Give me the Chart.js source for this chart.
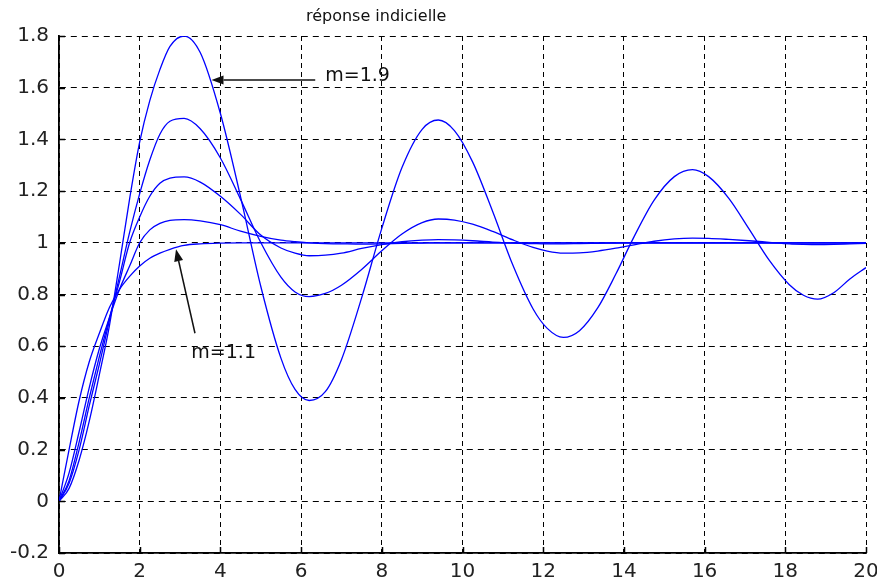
<!DOCTYPE html>
<html>
<head>
<meta charset="utf-8">
<script src="https://cdn.jsdelivr.net/npm/chart.js@4/dist/chart.umd.min.js"></script>
<style>
  html, body { margin: 0; padding: 0; background: #fff; }
  #wrap { width: 877px; height: 580px; }
</style>
</head>
<body>
<div id="wrap"><canvas id="c" width="877" height="580"></canvas></div>
<script>
// sample times (s), denser around the extrema
const T = [0, 0.25, 0.5, 0.75, 1, 1.25, 1.5, 1.75, 2, 2.25, 2.5, 2.75, 3.1,
  3.5, 4, 4.5, 5, 5.5, 5.85, 6.2,
  6.6, 7, 7.5, 8, 8.5, 9, 9.4,
  9.8, 10.25, 10.75, 11.25, 11.75, 12.1, 12.5,
  12.9, 13.35, 13.8, 14.25, 14.75, 15.25, 15.7,
  16.1, 16.6, 17.1, 17.6, 18.1, 18.45, 18.8,
  19.2, 19.6, 20];

// step responses, least damped first
const y19 = [0, 0.05, 0.16, 0.31, 0.49, 0.68, 0.92, 1.17, 1.39, 1.55, 1.67, 1.76, 1.80,
  1.736, 1.50, 1.178, 0.832, 0.554, 0.433, 0.39,
  0.424, 0.548, 0.787, 1.056, 1.291, 1.439, 1.475,
  1.434, 1.313, 1.12, 0.913, 0.744, 0.669, 0.634,
  0.66, 0.748, 0.879, 1.023, 1.165, 1.256, 1.283,
  1.256, 1.172, 1.054, 0.933, 0.838, 0.797, 0.782,
  0.807, 0.86, 0.904];
const y15 = [0, 0.07, 0.20, 0.37, 0.53, 0.70, 0.87, 1.04, 1.19, 1.32, 1.42, 1.47, 1.481,
  1.441, 1.328, 1.168, 1.001, 0.867, 0.81, 0.792,
  0.804, 0.836, 0.897, 0.969, 1.034, 1.078, 1.092,
  1.088, 1.072, 1.044, 1.011, 0.982, 0.968, 0.96,
  0.961, 0.968, 0.979, 0.992, 1.006, 1.015, 1.018,
  1.017, 1.013, 1.008, 1.002, 0.996, 0.994, 0.993,
  0.994, 0.996, 0.998];
const y13 = [0, 0.08, 0.23, 0.40, 0.56, 0.71, 0.85, 1.0, 1.10, 1.18, 1.23, 1.25, 1.255,
  1.235, 1.18, 1.11, 1.03, 0.98, 0.96, 0.95,
  0.952, 0.96, 0.978, 0.993, 1.004, 1.01, 1.012,
  1.011, 1.008, 1.003, 0.999, 0.997, 0.996, 0.996,
  0.997, 0.998, 0.999, 1.0, 1.0, 1.0, 1.0,
  1.0, 1.0, 1.0, 1.0, 1.0, 1.0, 1.0,
  1.0, 1.0, 1.0];
const y12 = [0, 0.11, 0.27, 0.44, 0.59, 0.71, 0.82, 0.91, 1.0, 1.05, 1.075, 1.087, 1.09,
  1.085, 1.07, 1.045, 1.025, 1.01, 1.004, 1.0,
  0.997, 0.996, 0.995, 0.996, 0.998, 0.999, 1.0,
  1.0, 1.0, 1.0, 1.0, 1.0, 1.0, 1.0,
  1.0, 1.0, 1.0, 1.0, 1.0, 1.0, 1.0,
  1.0, 1.0, 1.0, 1.0, 1.0, 1.0, 1.0,
  1.0, 1.0, 1.0];
const y11 = [0, 0.20, 0.39, 0.54, 0.65, 0.75, 0.82, 0.87, 0.91, 0.94, 0.96, 0.975, 0.99,
  0.996, 0.999, 1.0, 1.0, 1.0, 1.0, 1.0,
  1.0, 1.0, 1.0, 1.0, 1.0, 1.0, 1.0,
  1.0, 1.0, 1.0, 1.0, 1.0, 1.0, 1.0,
  1.0, 1.0, 1.0, 1.0, 1.0, 1.0, 1.0,
  1.0, 1.0, 1.0, 1.0, 1.0, 1.0, 1.0,
  1.0, 1.0, 1.0];

const curves = [y19, y15, y13, y12, y11];

const xTicks = [0, 2, 4, 6, 8, 10, 12, 14, 16, 18, 20];
const yTicks = [-0.2, 0, 0.2, 0.4, 0.6, 0.8, 1, 1.2, 1.4, 1.6, 1.8];

const titleText = 'réponse indicielle';
// arrow labels: [text, text pos, arrow tail, arrow tip] in data units
const notes = [
  ['m=1.9', [6.6, 1.645], [6.35, 1.63], [3.78, 1.63]],
  ['m=1.1', [3.28, 0.575], [3.37, 0.65], [2.9, 0.975]]
];

const FONT = '"DejaVu Sans", sans-serif';

const decor = {
  id: 'decor',
  afterDatasetsDraw(chart) {
    const { ctx, chartArea: a, scales: { x, y } } = chart;
    ctx.save();
    // inward tick marks on the two axes
    ctx.strokeStyle = '#000';
    ctx.lineWidth = 1.5;
    ctx.beginPath();
    xTicks.forEach(v => {
      const px = Math.round(x.getPixelForValue(v)) + 0.5;
      ctx.moveTo(px, a.bottom); ctx.lineTo(px, a.bottom - 6);
    });
    yTicks.forEach(v => {
      const py = Math.round(y.getPixelForValue(v)) + 0.5;
      ctx.moveTo(a.left, py); ctx.lineTo(a.left + 6, py);
    });
    ctx.stroke();

    // arrows and their labels
    ctx.fillStyle = '#111';
    ctx.strokeStyle = '#111';
    ctx.font = '19px ' + FONT;
    ctx.textBaseline = 'middle';
    notes.forEach(([txt, tp, from, to]) => {
      const x0 = x.getPixelForValue(from[0]), y0 = y.getPixelForValue(from[1]);
      const x1 = x.getPixelForValue(to[0]), y1 = y.getPixelForValue(to[1]);
      const ang = Math.atan2(y1 - y0, x1 - x0);
      const hl = 12, hw = 4.5;
      ctx.lineWidth = 1.5;
      ctx.beginPath();
      ctx.moveTo(x0, y0);
      ctx.lineTo(x1 - hl * Math.cos(ang), y1 - hl * Math.sin(ang));
      ctx.stroke();
      ctx.beginPath();
      ctx.moveTo(x1, y1);
      ctx.lineTo(x1 - hl * Math.cos(ang) - hw * Math.sin(ang), y1 - hl * Math.sin(ang) + hw * Math.cos(ang));
      ctx.lineTo(x1 - hl * Math.cos(ang) + hw * Math.sin(ang), y1 - hl * Math.sin(ang) - hw * Math.cos(ang));
      ctx.closePath();
      ctx.fill();
      ctx.textAlign = 'left';
      ctx.fillText(txt, x.getPixelForValue(tp[0]), y.getPixelForValue(tp[1]));
    });

    // title
    ctx.font = '16px ' + FONT;
    ctx.textAlign = 'center';
    ctx.fillStyle = '#111';
    ctx.fillText(titleText, a.left + a.width * 0.393, 17);
    ctx.restore();
  }
};

new Chart(document.getElementById('c'), {
  type: 'line',
  data: {
    datasets: curves.map(ys => ({
      data: T.map((t, i) => ({ x: t, y: ys[i] })),
      borderColor: '#0000ff',
      borderWidth: 1.3,
      pointRadius: 0,
      fill: false,
      cubicInterpolationMode: 'monotone'
    }))
  },
  options: {
    responsive: false,
    animation: false,
    layout: { padding: { top: 36, right: 11, left: 0, bottom: 0 } },
    plugins: { legend: { display: false }, tooltip: { enabled: false }, title: { display: false } },
    scales: {
      x: {
        type: 'linear', min: 0, max: 20,
        afterBuildTicks: s => { s.ticks = xTicks.map(v => ({ value: v })); },
        afterFit: s => { s.height = 27; s.paddingLeft = 0; s.paddingRight = 0; },
        grid: { color: '#000', lineWidth: 1, drawTicks: false },
        border: { display: true, color: '#000', width: 1.8, dash: [5, 4] },
        ticks: { color: '#222', padding: 7, font: { family: FONT, size: 20 }, callback: v => String(v), maxRotation: 0 }
      },
      y: {
        type: 'linear', min: -0.2, max: 1.8,
        afterBuildTicks: s => { s.ticks = yTicks.map(v => ({ value: v })); },
        afterFit: s => { s.width = 59; s.paddingTop = 0; s.paddingBottom = 0; },
        grid: { color: '#000', lineWidth: 1, drawTicks: false },
        border: { display: true, color: '#000', width: 1.8, dash: [6, 5] },
        ticks: { color: '#222', padding: 10, font: { family: FONT, size: 20 }, callback: v => String(Math.round(v * 10) / 10) }
      }
    }
  },
  plugins: [decor]
});
</script>
</body>
</html>
